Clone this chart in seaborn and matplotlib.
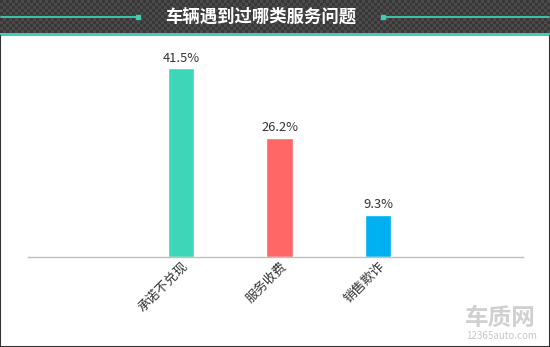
import matplotlib
matplotlib.use("Agg")
import matplotlib.pyplot as plt
import seaborn as sns
import numpy as np
import pandas as pd

categories = ["承诺不兑现", "服务收费", "销售欺诈"]
values = [41.5, 26.2, 9.3]
value_labels = ["41.5%", "26.2%", "9.3%"]
colors = ["#3CD7B9", "#FF6666", "#00B0F0"]
title = "车辆遇到过哪类服务问题"

sns.set_theme(style="white")
plt.rcParams['font.family'] = ['Noto Sans CJK SC', 'DejaVu Sans']

W, H = 550, 347
fig = plt.figure(figsize=(W / 100, H / 100), dpi=100)
fig.patch.set_facecolor("white")

# header band with checker pattern
hdr = fig.add_axes([0, 1 - 33 / H, 1, 33 / H])
n_y, n_x = 11, 184
yy, xx = np.mgrid[0:n_y, 0:n_x]
pat = ((xx + yy) % 2).astype(float)
hdr.imshow(pat, cmap=matplotlib.colors.ListedColormap(["#383838", "#4a4a4a"]),
           aspect="auto", extent=[0, W, 0, 33], interpolation="nearest")
hdr.set_xlim(0, W)
hdr.set_ylim(0, 33)
hdr.axis("off")
hdr.plot([1, 138], [16.5, 16.5], color="#3CCFB0", lw=1.3)
hdr.plot([383, 549], [16.5, 16.5], color="#3CCFB0", lw=1.3)
hdr.plot([138, 383], [16.5, 16.5], ls="none", marker="s", ms=3, color="#3CCFB0")
hdr.text(261, 16.5, title, color="white", fontsize=12.5, fontweight="bold",
         ha="center", va="center")

# teal strip
strip = fig.add_axes([0, 1 - 36 / H, 1, 3 / H])
strip.set_facecolor("#3CCFB0")
strip.set_xticks([]); strip.set_yticks([])
for s in strip.spines.values():
    s.set_visible(False)

# main axes
x0, x1 = 28, 523
ybase, ytop = 257, 40
ax = fig.add_axes([x0 / W, (H - ybase) / H, (x1 - x0) / W, (ybase - ytop) / H])
df = pd.DataFrame({"cat": categories, "val": values})
sns.barplot(data=df, x="cat", y="val", hue="cat", palette=colors, width=0.264,
            legend=False, ax=ax, saturation=1)
px = 98.5
ax.set_xlim((x0 - 181) / px, (x1 - 181) / px)
ax.set_ylim(0, (ybase - ytop) / 4.55)
for cont, lab in zip(ax.containers, value_labels):
    ax.bar_label(cont, labels=[lab], padding=2.5, fontsize=9.3, color="#333333")
ax.set_xlabel("")
ax.set_ylabel("")
ax.set_yticks([])
ax.tick_params(axis="x", length=0, pad=2)
plt.setp(ax.get_xticklabels(), rotation=45, ha="right", rotation_mode="anchor",
         fontsize=9.3, color="#333333")
for k in ["top", "left", "right"]:
    ax.spines[k].set_visible(False)
ax.spines["bottom"].set_color("#c0c0c0")
ax.spines["bottom"].set_linewidth(1)
ax.patch.set_alpha(0)

# watermark
fig.text(500 / W, 1 - 318 / H, "车质网", fontsize=17, color="#d0d0d0",
         fontweight="bold", ha="center", va="center")
fig.text(502 / W, 1 - 336 / H, "12365auto.com", fontsize=7, color="#c8c8c8",
         ha="center", va="center")

# figure border
border = fig.add_axes([0, 0, 1, 1 - 36 / H])
border.patch.set_alpha(0)
border.set_xticks([]); border.set_yticks([])
for k, s in border.spines.items():
    s.set_color("#333333")
    s.set_linewidth(1.5)
border.spines["top"].set_visible(False)

fig.savefig("out.png", dpi=100)
